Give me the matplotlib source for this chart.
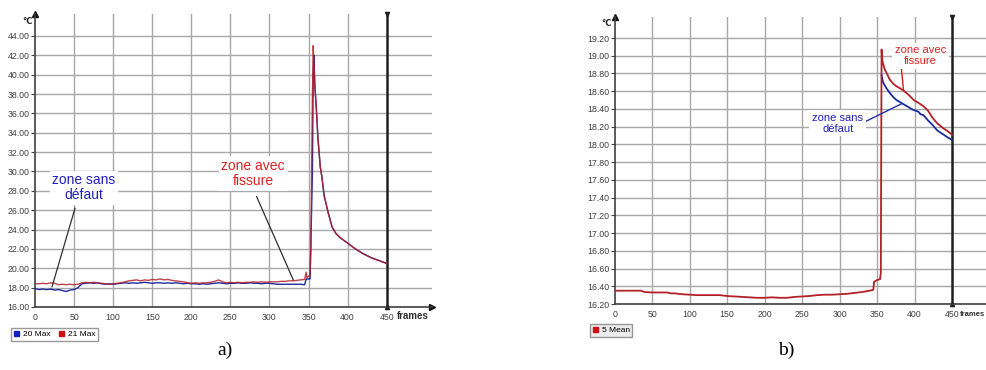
import numpy as np
import matplotlib.pyplot as plt
from matplotlib.patches import Patch

# --- a) 20 Max / 21 Max ---
frames_a = [0, 5, 10, 15, 20, 25, 30, 35, 40, 45, 50, 55, 60, 65, 70, 75, 80, 85, 90, 95,
            100, 105, 110, 115, 120, 125, 130, 135, 140, 145, 150, 155, 160, 165, 170, 175,
            180, 185, 190, 195, 200, 205, 210, 215, 220, 225, 230, 235, 240, 245, 250, 255,
            260, 265, 270, 275, 280, 285, 290, 295, 300, 305, 310, 315, 320, 325, 330, 335,
            340, 345, 347, 348, 350, 352, 353, 355, 356, 357, 358, 360, 362, 365, 367, 370,
            375, 380, 385, 390, 395, 400, 410, 420, 430, 440, 450]
max20 = [17.9, 17.8, 17.85, 17.8, 17.85, 17.75, 17.8, 17.7, 17.6, 17.75, 17.8, 18.0, 18.4,
         18.45, 18.5, 18.45, 18.5, 18.4, 18.35, 18.4, 18.35, 18.4, 18.45, 18.5, 18.45, 18.5,
         18.45, 18.5, 18.55, 18.5, 18.45, 18.5, 18.5, 18.45, 18.5, 18.45, 18.5, 18.45, 18.4,
         18.45, 18.4, 18.4, 18.35, 18.4, 18.35, 18.4, 18.45, 18.5, 18.45, 18.4, 18.45, 18.45,
         18.5, 18.45, 18.45, 18.5, 18.45, 18.45, 18.4, 18.45, 18.45, 18.4, 18.35, 18.35,
         18.35, 18.35, 18.35, 18.35, 18.35, 18.3, 18.9, 18.9, 18.9, 18.9, 22.5, 30.0, 40.0,
         42.0, 39.0, 36.5, 33.5, 30.5, 29.5, 27.5, 25.8, 24.3, 23.6, 23.2, 22.9, 22.6, 22.0,
         21.5, 21.1, 20.8, 20.5]
max21 = [18.4, 18.4, 18.45, 18.4, 18.5, 18.45, 18.3, 18.35, 18.3, 18.35, 18.3, 18.35, 18.5,
         18.55, 18.5, 18.55, 18.5, 18.45, 18.4, 18.35, 18.4, 18.45, 18.5, 18.6, 18.7, 18.75,
         18.8, 18.7, 18.8, 18.75, 18.85, 18.8, 18.9, 18.8, 18.85, 18.75, 18.7, 18.65, 18.6,
         18.5, 18.45, 18.5, 18.45, 18.5, 18.5, 18.55, 18.65, 18.8, 18.6, 18.5, 18.55, 18.5,
         18.55, 18.5, 18.55, 18.55, 18.6, 18.55, 18.6, 18.55, 18.6, 18.6, 18.6, 18.65, 18.65,
         18.7, 18.7, 18.75, 18.8, 18.85, 19.6, 19.0, 19.2, 19.3, 22.5, 38.0, 43.0, 41.0,
         39.0, 36.5, 33.5, 30.5, 29.5, 27.5, 25.8, 24.3, 23.6, 23.2, 22.9, 22.6, 22.0, 21.5,
         21.1, 20.8, 20.5]
yticks_a = np.arange(16, 45, 2)

# --- b) 5 Mean + zone sans defaut ---
frames_b = [0, 10, 20, 30, 35, 40, 50, 60, 70, 75, 80, 90, 100, 110, 120, 130, 140, 150, 160,
            170, 180, 190, 200, 210, 220, 230, 240, 250, 260, 270, 280, 290, 300, 310, 320,
            330, 340, 345, 346, 350, 354, 355, 356, 357, 358, 360, 363, 367, 372, 377, 385,
            392, 399, 405, 412, 418, 424, 430, 437, 444, 450]
mean5 = [16.35, 16.35, 16.35, 16.35, 16.35, 16.335, 16.33, 16.33, 16.33, 16.32, 16.32, 16.31,
         16.305, 16.30, 16.30, 16.30, 16.30, 16.29, 16.285, 16.28, 16.275, 16.27, 16.27,
         16.275, 16.27, 16.27, 16.28, 16.285, 16.29, 16.30, 16.305, 16.305, 16.31, 16.315,
         16.325, 16.335, 16.35, 16.36, 16.45, 16.47, 16.48, 16.55, 19.07, 18.95, 18.91, 18.85,
         18.80, 18.73, 18.68, 18.65, 18.61, 18.56, 18.50, 18.47, 18.43, 18.38, 18.30, 18.24,
         18.19, 18.15, 18.11]
frames_b2 = [356, 358, 362, 367, 372, 376, 382, 390, 398, 405, 408, 412, 418, 424, 430, 437,
             444, 450]
sans_defaut = [18.78, 18.70, 18.64, 18.58, 18.53, 18.50, 18.47, 18.43, 18.39, 18.37, 18.34,
               18.33, 18.27, 18.22, 18.16, 18.12, 18.08, 18.05]
yticks_b = np.round(np.arange(16.2, 19.21, 0.2), 2)

xticks = np.arange(0, 451, 50)

W, H = 986, 370
BLUE = "#1c2c9c"
RED = "#b42028"
GRID = "#a8a8a8"
AX = "#404040"


def px(x, y):
    # pixel -> figure fraction
    return x / W, 1 - y / H


def style_axes(ax, yticks, fmt, xmax, ylim):
    ax.set_xlim(0, xmax)
    ax.set_ylim(*ylim)
    ax.set_xticks(xticks)
    ax.set_yticks(yticks)
    ax.set_yticklabels([fmt % v for v in yticks])
    ax.tick_params(axis="y", length=3, width=0.8, color=AX, labelsize=6.3, labelcolor=AX, pad=1)
    ax.tick_params(axis="x", length=0, labelsize=6.3, labelcolor=AX, pad=4)
    for lab in ax.get_xticklabels() + ax.get_yticklabels():
        lab.set_family("Liberation Sans")
    ax.spines["top"].set_visible(False)
    ax.spines["right"].set_visible(False)
    ax.spines["left"].set_color(AX)
    ax.spines["bottom"].set_color(AX)
    ax.spines["left"].set_linewidth(1.2)
    ax.spines["bottom"].set_linewidth(1.2)
    # grid
    for v in yticks:
        ax.axhline(v, color=GRID, lw=1.0, zorder=0)
    for v in xticks[1:-1]:
        ax.axvline(v, color=GRID, lw=1.0, zorder=0)
    # thick marker line at 450
    ax.axvline(450, color="#202020", lw=1.8, zorder=3)
    ax.plot([450], [1], marker="v", ms=3, color="#202020", transform=ax.get_xaxis_transform(),
            clip_on=False)
    ax.plot([450], [0], marker="^", ms=3, color="#202020", transform=ax.get_xaxis_transform(),
            clip_on=False)
    # axis arrows
    ax.plot([0], [1], marker="^", ms=4, color="#101010", transform=ax.transAxes, clip_on=False)
    ax.plot([1], [0], marker=">", ms=4, color="#101010", transform=ax.transAxes, clip_on=False)


fig = plt.figure(figsize=(W / 100, H / 100), dpi=100)

# chart a)
ax1 = fig.add_axes([35 / W, (H - 307) / H, (432 - 35) / W, (307 - 14) / H])
style_axes(ax1, yticks_a, "%.2f", 508, (16, 46.27))
ax1.plot(frames_a, max20, color=BLUE, lw=1.0, zorder=4)
ax1.plot(frames_a, max21, color=RED, lw=1.0, alpha=0.85, zorder=5)

box = dict(facecolor="white", edgecolor="none", pad=2)
ax1.plot([51.2, 21.8], [26.2, 18.1], color="#303030", lw=0.9, zorder=6)
ax1.text(62.7, 28.3, "zone sans\ndéfaut", color="#2020c0", fontsize=10, ha="center",
         va="center", family="Liberation Sans", linespacing=1.1, bbox=box, zorder=7)
ax1.plot([283.6, 330.5], [27.4, 18.8], color="#303030", lw=0.9, zorder=6)
ax1.text(279, 29.8, "zone avec\nfissure", color="#e02020", fontsize=10, ha="center",
         va="center", family="Liberation Sans", linespacing=1.1, bbox=box, zorder=7)

# chart b)
ax2 = fig.add_axes([614.7 / W, (H - 304) / H, (1000 - 614.7) / W, (304 - 17) / H])
style_axes(ax2, yticks_b, "%.2f", 514, (16.2, 19.437))
ax2.plot(frames_b2, sans_defaut, color=BLUE, lw=1.3, zorder=4)
ax2.plot(frames_b, mean5, color=RED, lw=1.3, zorder=5)

ax2.plot([381.8, 385.3], [18.91, 18.61], color="#d02020", lw=1.0, zorder=6)
ax2.text(408, 19.0, "zone avec\nfissure", color="#e02020", fontsize=8, ha="center",
         va="center", family="Liberation Sans", linespacing=1.1, bbox=box, zorder=7)
ax2.plot([323, 383], [18.21, 18.46], color="#2030b0", lw=1.0, zorder=6)
ax2.text(297.5, 18.24, "zone sans\ndéfaut", color="#2020c0", fontsize=8, ha="center",
         va="center", family="Liberation Sans", linespacing=1.1, bbox=box, zorder=7)

# axis labels
for (x, y) in [(27, 21), (606, 24)]:
    fig.text(*px(x, y), "°C", fontsize=6, ha="center", va="center", color="#202020",
             family="DejaVu Sans", weight="bold")
fig.text(*px(397, 316), "frames", fontsize=7, ha="left", va="center", weight="bold",
         color="#303030", family="Liberation Sans")
fig.text(*px(960, 314), "frames", fontsize=5.5, ha="left", va="center", weight="bold",
         color="#303030", family="Liberation Sans")

# legends
leg1 = fig.legend(handles=[Patch(color="#1020c0", label="20 Max"),
                           Patch(color="#d01010", label="21 Max")],
                  loc="upper left", bbox_to_anchor=px(11, 328), ncol=2, fontsize=6,
                  frameon=True, fancybox=False, edgecolor="#808080", handlelength=0.7,
                  handleheight=0.7, handletextpad=0.4, columnspacing=1.0, borderpad=0.3,
                  borderaxespad=0, prop={"family": "Liberation Sans", "size": 6})
leg2 = fig.legend(handles=[Patch(color="#d01010", label="5 Mean")],
                  loc="upper left", bbox_to_anchor=px(590, 324), fontsize=6,
                  frameon=True, fancybox=False, edgecolor="#808080", handlelength=0.7,
                  handleheight=0.7, handletextpad=0.4, borderpad=0.3, borderaxespad=0,
                  prop={"family": "Liberation Sans", "size": 6})
leg2.get_frame().set_facecolor("#e8e8e8")

# captions
fig.text(*px(225, 350), "a)", fontsize=14, ha="center", va="center", family="Liberation Serif")
fig.text(*px(786, 350), "b)", fontsize=14, ha="center", va="center", family="Liberation Serif")

fig.savefig("out.png", dpi=100)
